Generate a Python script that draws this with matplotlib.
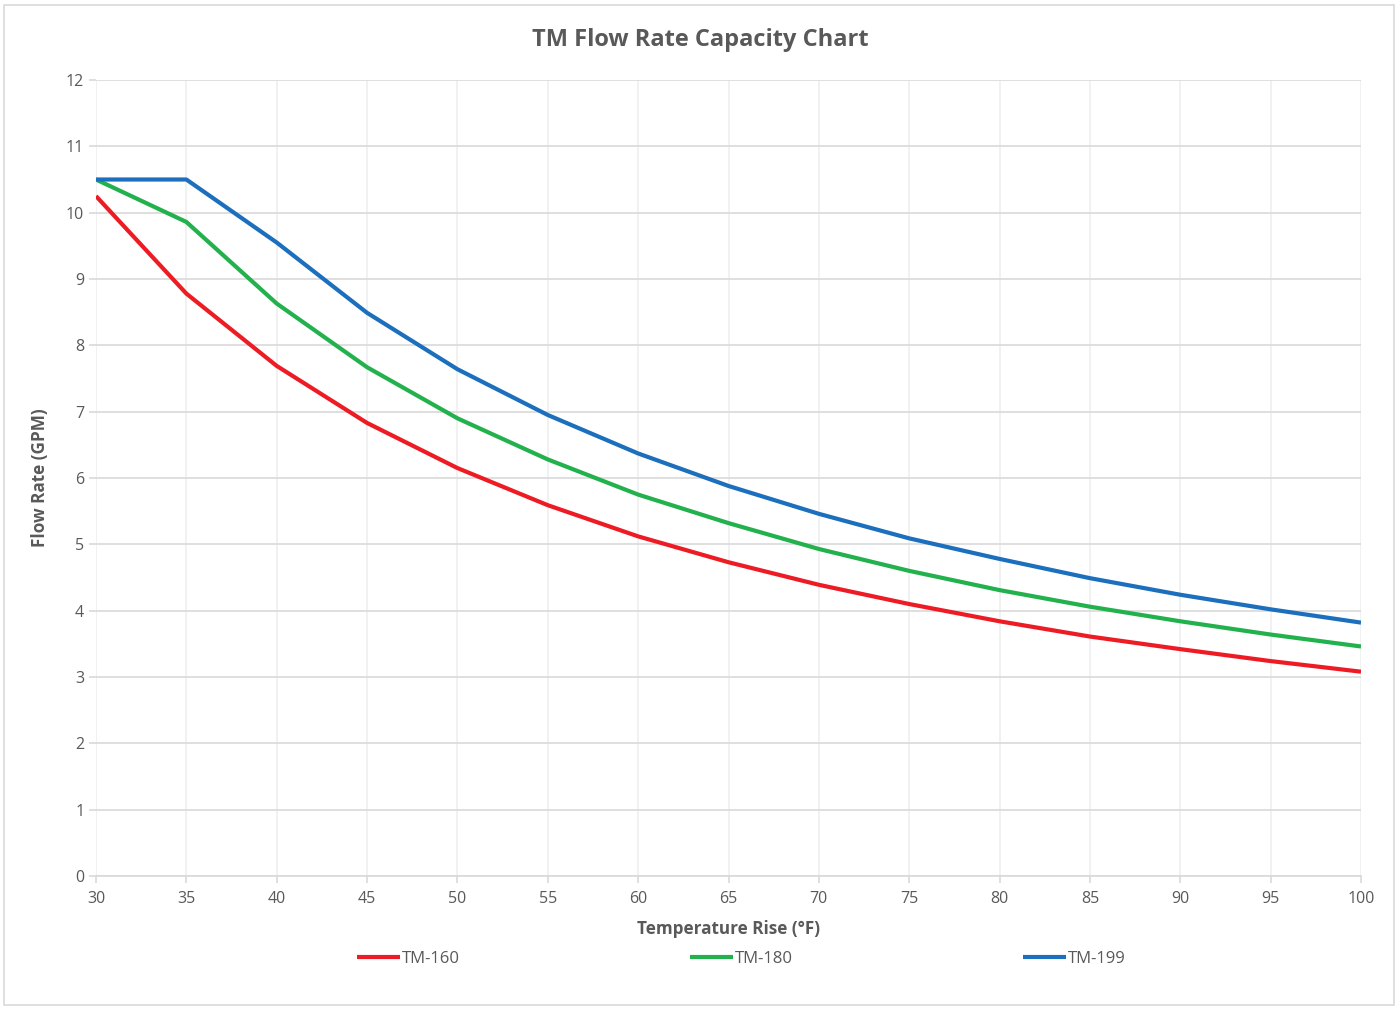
import matplotlib.pyplot as plt
from matplotlib.patches import Rectangle

# данные графика
temp_rise = [30, 35, 40, 45, 50, 55, 60, 65, 70, 75, 80, 85, 90, 95, 100]
tm160 = [10.25, 8.78, 7.69, 6.83, 6.15, 5.59, 5.12, 4.73, 4.39, 4.10, 3.84, 3.61, 3.42, 3.24, 3.08]
tm180 = [10.50, 9.86, 8.63, 7.67, 6.90, 6.28, 5.75, 5.32, 4.93, 4.60, 4.31, 4.06, 3.84, 3.64, 3.46]
tm199 = [10.50, 10.50, 9.55, 8.49, 7.64, 6.95, 6.37, 5.88, 5.46, 5.09, 4.78, 4.49, 4.24, 4.02, 3.82]
series_names = ['TM-160', 'TM-180', 'TM-199']
x_ticks = list(range(30, 101, 5))
y_ticks = list(range(0, 13))

colors = ['#ED1C24', '#22B14C', '#1B6FBC']
text_color = '#595959'
plt.rcParams['font.family'] = ['Open Sans', 'DejaVu Sans']

fig = plt.figure(figsize=(13.98, 10.09), dpi=100)
ax = fig.add_axes([96 / 1398, 1 - 876 / 1009, (1361 - 96) / 1398, (876 - 80) / 1009])

for vals, name, c in zip([tm160, tm180, tm199], series_names, colors):
    ax.plot(temp_rise, vals, color=c, lw=3, label=name, solid_capstyle='butt', zorder=3)

ax.set_xlim(30, 100)
ax.set_ylim(0, 12)
ax.set_xticks(x_ticks)
ax.set_yticks(y_ticks)
ax.grid(axis='y', color='#d9d9d9', lw=1.2, zorder=0)
ax.grid(axis='x', color='#efefef', lw=1.2, zorder=0)
for s in ['top', 'right', 'left']:
    ax.spines[s].set_visible(False)
ax.spines['bottom'].set_color('#d9d9d9')
ax.spines['bottom'].set_linewidth(1.2)
ax.tick_params(axis='both', colors='#d9d9d9', labelcolor=text_color, labelsize=11.5, length=5, width=1.2)
ax.tick_params(axis='x', pad=6)

ax.set_xlabel('Temperature Rise (°F)', fontsize=12.3, fontweight='bold', color=text_color, labelpad=9)
ax.set_ylabel('Flow Rate (GPM)', fontsize=12.3, fontweight='bold', color=text_color, labelpad=12)
fig.text(700 / 1398, 1 - 40 / 1009, 'TM Flow Rate Capacity Chart', ha='center', va='center',
         fontsize=17, fontweight='bold', color=text_color)

leg = fig.legend(loc='center', bbox_to_anchor=(741 / 1398, 1 - 959 / 1009), ncol=3, frameon=False,
                 fontsize=12, handlelength=2.6, handletextpad=0.1, columnspacing=13.8)
for t in leg.get_texts():
    t.set_color(text_color)

# рамка вокруг графика
fig.patches.append(Rectangle((4 / 1398, 4 / 1009), 1390 / 1398, 1000 / 1009, transform=fig.transFigure,
                             fill=False, edgecolor='#d9d9d9', lw=1.2))

fig.savefig('out.png', dpi=100)
